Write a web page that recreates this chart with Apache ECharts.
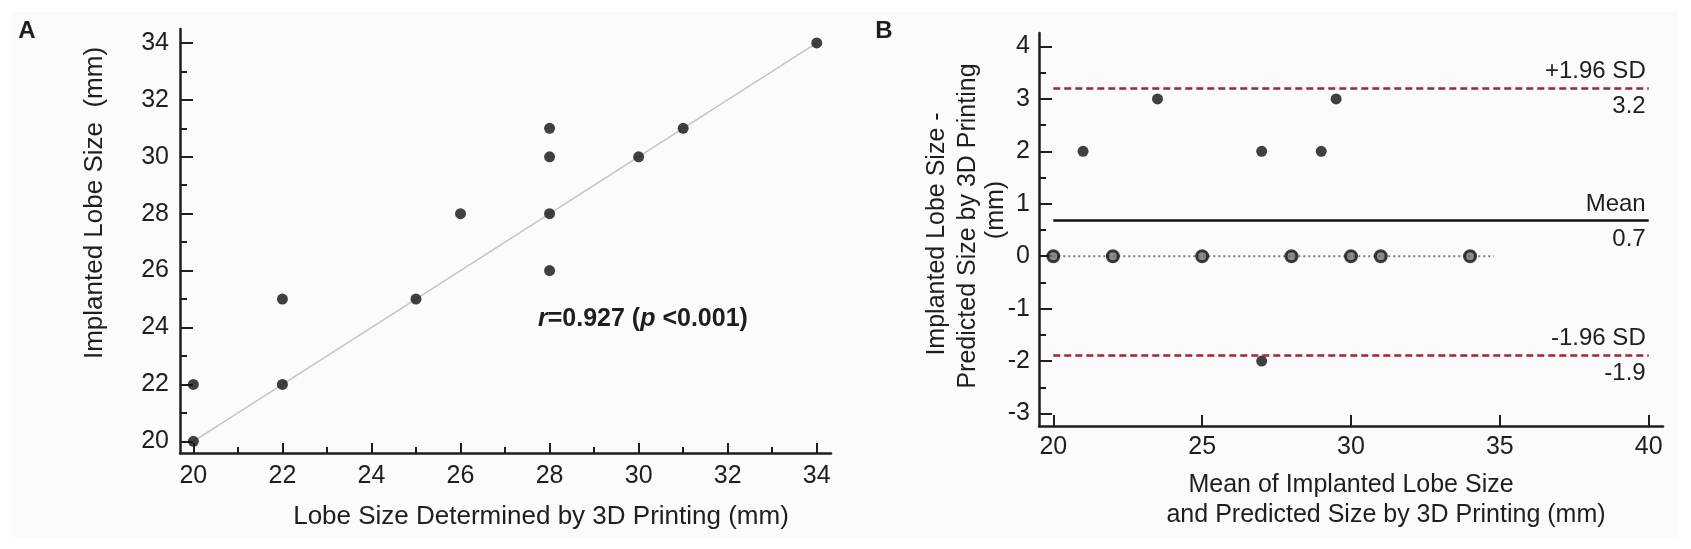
<!DOCTYPE html>
<html>
<head>
<meta charset="utf-8">
<script src="https://cdn.jsdelivr.net/npm/echarts@6/dist/echarts.min.js"></script>
<style>
  html, body { margin: 0; padding: 0; background: #fff; }
  #chart { width: 1691px; height: 549px; }
</style>
</head>
<body>
<div id="chart"></div>
<script>
// panel A: implanted vs 3D printed lobe size
const lobePrinted = [20, 20, 22, 22, 25, 26, 28, 28, 28, 28, 30, 31, 34];
const lobeImplanted = [20, 22, 22, 25, 25, 28, 26, 28, 30, 31, 30, 31, 34];
const fitX = [20, 34];
const fitY = [20, 34];
const aTicks = [20, 22, 24, 26, 28, 30, 32, 34];
const aMinorTicks = [21, 23, 25, 27, 29, 31, 33];

// panel B: Bland-Altman
const baMean = [20, 21, 22, 23.5, 25, 27, 27, 28, 29, 29.5, 30, 31, 34];
const baDiff = [0, 2, 0, 3, 0, 2, -2, 0, 2, 3, 0, 0, 0];
const zeroLineX = [20, 34.8];
const limitX = [20, 40];
const meanDiff = 0.68;
const upperLimit = 3.21;
const lowerLimit = -1.88;
const bXTicks = [20, 25, 30, 35, 40];
const bYTicks = [-3, -2, -1, 0, 1, 2, 3, 4];
const bYMinorTicks = [-2.5, -1.5, -0.5, 0.5, 1.5, 2.5, 3.5];

const FONT = '"Liberation Sans", Arial, sans-serif';
const INK = '#1e1e1e';
const LOA_RED = '#a3262a';

function majorAxis(extra) {
  return Object.assign({
    type: 'value',
    splitLine: { show: false },
    axisLine: { show: true, onZero: false, lineStyle: { color: INK, width: 2.5 } },
    axisTick: { show: true, inside: true, lineStyle: { color: INK, width: 2 } },
    axisLabel: { color: INK, fontSize: 25, fontFamily: FONT },
  }, extra);
}

function minorAxis(extra) {
  return Object.assign({
    type: 'value',
    splitLine: { show: false },
    axisLine: { show: false },
    axisLabel: { show: false },
  }, extra);
}

const aPoints = lobePrinted.map((x, i) => [x, lobeImplanted[i]]);
const bPoints = baMean.map((x, i) => {
  if (baDiff[i] === 0) {
    return { value: [x, baDiff[i]], itemStyle: { color: '#6e6e6e', borderColor: '#111', borderWidth: 3 } };
  }
  return { value: [x, baDiff[i]] };
});

function limitLine(y, color, type, name, value) {
  const lineStyle = { color, width: 2.5, type };
  const textStyle = { color: INK, fontSize: 24, fontFamily: FONT };
  return [
    [
      { coord: [limitX[0], y], lineStyle, label: Object.assign({ show: true, position: 'insideEndTop', formatter: name, distance: [3, 4] }, textStyle) },
      { coord: [limitX[1], y] },
    ],
    [
      { coord: [limitX[0], y], lineStyle: { color: 'rgba(0,0,0,0)', width: 0 }, label: Object.assign({ show: true, position: 'insideEndBottom', formatter: value, distance: [3, 7] }, textStyle) },
      { coord: [limitX[1], y] },
    ],
  ];
}

function label(text, x, y, opts) {
  return {
    type: 'text',
    x, y,
    rotation: opts && opts.rotate ? Math.PI / 2 : 0,
    style: Object.assign({
      text,
      fill: INK,
      font: `${(opts && opts.size) || 25}px ${FONT}`,
      align: 'center',
      verticalAlign: 'middle',
    }, opts && opts.style),
  };
}

const chart = echarts.init(document.getElementById('chart'));
chart.setOption({
  backgroundColor: '#ffffff',
  animation: false,
  grid: [
    { left: 180, right: 860, top: 29, bottom: 96 },
    { left: 1039, right: 28, top: 33, bottom: 123 },
  ],
  xAxis: [
    majorAxis({
      gridIndex: 0, min: 19.7, max: 34.32, position: 'bottom',
      axisTick: { show: true, inside: true, length: 10, customValues: aTicks, lineStyle: { color: INK, width: 2 } },
      axisLabel: { color: INK, fontSize: 25, fontFamily: FONT, margin: 11, customValues: aTicks },
    }),
    minorAxis({
      gridIndex: 0, min: 19.7, max: 34.32, position: 'bottom',
      axisTick: { show: true, inside: true, length: 6, customValues: aMinorTicks, lineStyle: { color: INK, width: 2 } },
    }),
    majorAxis({
      gridIndex: 1, min: 19.52, max: 40.48, position: 'bottom',
      axisTick: { show: true, inside: true, length: 11, customValues: bXTicks, lineStyle: { color: INK, width: 2 } },
      axisLabel: { color: INK, fontSize: 25, fontFamily: FONT, margin: 9, customValues: bXTicks },
    }),
  ],
  yAxis: [
    majorAxis({
      gridIndex: 0, min: 19.59, max: 34.49, position: 'left',
      axisTick: { show: true, inside: true, length: 13, customValues: aTicks, lineStyle: { color: INK, width: 2 } },
      axisLabel: { color: INK, fontSize: 25, fontFamily: FONT, margin: 11, customValues: aTicks },
    }),
    minorAxis({
      gridIndex: 0, min: 19.59, max: 34.49, position: 'left',
      axisTick: { show: true, inside: true, length: 7, customValues: aMinorTicks, lineStyle: { color: INK, width: 2 } },
    }),
    majorAxis({
      gridIndex: 1, min: -3.237, max: 4.256, position: 'left',
      axisTick: { show: true, inside: true, length: 13, customValues: bYTicks, lineStyle: { color: INK, width: 2 } },
      axisLabel: { color: INK, fontSize: 25, fontFamily: FONT, margin: 9, customValues: bYTicks },
    }),
    minorAxis({
      gridIndex: 1, min: -3.237, max: 4.256, position: 'left',
      axisTick: { show: true, inside: true, length: 7, customValues: bYMinorTicks, lineStyle: { color: INK, width: 2 } },
    }),
  ],
  series: [
    {
      type: 'line',
      xAxisIndex: 0, yAxisIndex: 0,
      data: fitX.map((x, i) => [x, fitY[i]]),
      showSymbol: false,
      lineStyle: { color: '#c4c4c4', width: 1.5 },
      z: 1,
      silent: true,
    },
    {
      type: 'scatter',
      xAxisIndex: 0, yAxisIndex: 0,
      data: aPoints,
      symbolSize: 11,
      itemStyle: { color: '#111' },
      z: 3,
    },
    {
      type: 'line',
      xAxisIndex: 2, yAxisIndex: 2,
      data: zeroLineX.map((x) => [x, 0]),
      showSymbol: false,
      lineStyle: { color: '#7a7a7a', width: 2, type: [2, 3] },
      z: 1,
      silent: true,
    },
    {
      type: 'scatter',
      xAxisIndex: 2, yAxisIndex: 2,
      data: bPoints,
      symbolSize: 11,
      itemStyle: { color: '#111' },
      z: 3,
      markLine: {
        silent: true,
        symbol: 'none',
        animation: false,
        data: [
          ...limitLine(upperLimit, LOA_RED, [7, 4], '+1.96 SD', '3.2'),
          ...limitLine(meanDiff, '#111', 'solid', 'Mean', '0.7'),
          ...limitLine(lowerLimit, LOA_RED, [7, 4], '-1.96 SD', '-1.9'),
        ],
      },
    },
  ],
  graphic: [
    { type: 'rect', shape: { x: 12, y: 12, width: 1666, height: 525 }, style: { fill: '#fbfbfb' }, z: -10, silent: true },
    label('A', 27, 31, { style: { font: `bold 24px ${FONT}` } }),
    label('B', 884, 31, { style: { font: `bold 24px ${FONT}` } }),
    label('Implanted Lobe Size  (mm)', 95, 203, { rotate: true, size: 26 }),
    label('Lobe Size Determined by 3D Printing (mm)', 541, 517, { size: 26 }),
    {
      type: 'text',
      x: 538, y: 319,
      style: {
        text: '{i|r}=0.927 ({i|p} <0.001)',
        fill: INK,
        font: `bold 25px ${FONT}`,
        align: 'left',
        verticalAlign: 'middle',
        rich: { i: { fontStyle: 'italic', fontWeight: 'bold', fontSize: 25, fontFamily: FONT, fill: INK } },
      },
    },
    label('Implanted Lobe Size -', 937, 234, { rotate: true }),
    label('Predicted Size by 3D Printing', 968, 226, { rotate: true }),
    label('(mm)', 996, 210, { rotate: true }),
    label('Mean of Implanted Lobe Size', 1351, 485),
    label('and Predicted Size by 3D Printing (mm)', 1386, 515),
  ],
});
</script>
</body>
</html>
